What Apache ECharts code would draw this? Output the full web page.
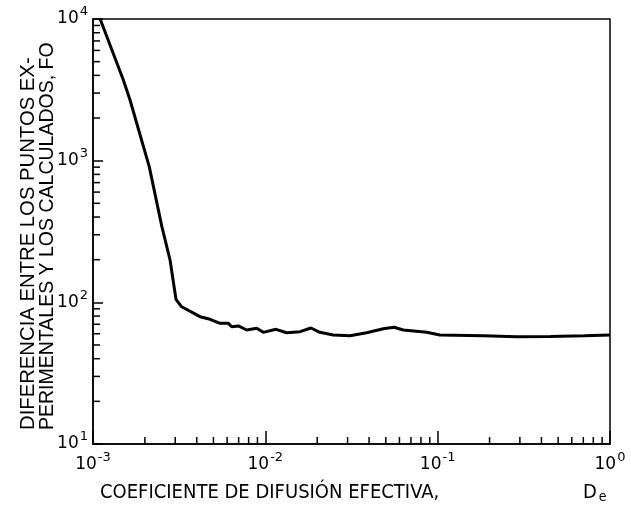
<!DOCTYPE html>
<html>
<head>
<meta charset="utf-8">
<script src="https://cdn.jsdelivr.net/npm/echarts@6/dist/echarts.min.js"></script>
<style>
html,body{margin:0;padding:0;background:#fff;}
#c{width:631px;height:513px;}
</style>
</head>
<body>
<div id="c"></div>
<script>
// Coefficient of effective diffusion (x) and deviation FO (y)
const deX = [0.00110, 0.00150, 0.00164, 0.00212, 0.00251, 0.00280, 0.00303, 0.00327, 0.00418, 0.00478,
             0.00546, 0.00610, 0.00638, 0.00697, 0.00780, 0.00891, 0.00973, 0.01153, 0.0133, 0.0159,
             0.0184, 0.0207, 0.0248, 0.0310, 0.0387, 0.0484, 0.0558, 0.0632, 0.0863, 0.103,
             0.184, 0.288, 0.449, 0.710, 1.0];
const foY = [10000, 3710, 2680, 907, 342, 199, 105, 93, 79.2, 75.9,
             71.1, 71.1, 67.3, 68.1, 63.8, 65.6, 61.4, 64.5, 61.0, 62.1,
             65.9, 61.4, 58.8, 58.1, 61.0, 65.1, 66.7, 63.8, 61.4, 58.8,
             58.1, 57.2, 57.5, 58.1, 58.8];

// axis decoration
const xDecades = [0.001, 0.01, 0.1];
const yDecades = [10, 100, 1000];
const minorMultipliers = [2, 3, 4, 5, 6, 7, 8, 9];
const xMin = 0.001, xMax = 1, yMin = 10, yMax = 10000;

const yTitleLines = ['DIFERENCIA ENTRE LOS PUNTOS EX-', 'PERIMENTALES Y LOS CALCULADOS, FO'];
const xTitle = 'COEFICIENTE DE DIFUSIÓN EFECTIVA,';

const xMinor = [], yMinor = [];
xDecades.forEach(d => minorMultipliers.forEach(m => xMinor.push([d * m, yMin])));
yDecades.forEach(d => minorMultipliers.forEach(m => yMinor.push([xMin, d * m])));

const curve = deX.map((x, i) => [x, foY[i]]);

const labelFont = 'DejaVu Sans';
function expLabel(v) {
  const e = Math.round(Math.log10(v));
  return '{b|10}{s|' + e + '}';
}
const richLbl = {
  b: {fontFamily: labelFont, fontSize: 17, color: '#000'},
  s: {fontFamily: labelFont, fontSize: 13, color: '#000', padding: [0, 0, 14, 1]}
};

const chart = echarts.init(document.getElementById('c'), null, {renderer: 'canvas'});
chart.setOption({
  backgroundColor: '#fff',
  animation: false,
  grid: {left: 93, right: 21, top: 19, bottom: 69, show: true, borderColor: '#000', borderWidth: 1.5, backgroundColor: 'transparent'},
  xAxis: {
    type: 'log', logBase: 10, min: xMin, max: xMax,
    axisLine: {show: true, lineStyle: {color: '#000', width: 1.5}},
    axisTick: {show: true, inside: true, length: 13, lineStyle: {color: '#000', width: 1.5}},
    splitLine: {show: false},
    axisLabel: {margin: 7, fontSize: 17, fontFamily: labelFont, color: '#000', formatter: expLabel, rich: richLbl}
  },
  yAxis: {
    type: 'log', logBase: 10, min: yMin, max: yMax,
    axisLine: {show: true, lineStyle: {color: '#000', width: 1.5}},
    axisTick: {show: true, inside: true, length: 10, lineStyle: {color: '#000', width: 1.5}},
    splitLine: {show: false},
    axisLabel: {margin: 5, fontSize: 17, fontFamily: labelFont, color: '#000', formatter: expLabel, rich: richLbl}
  },
  graphic: [
    {type: 'text', x: 19, y: 430, rotation: Math.PI / 2,
     style: {text: '{a|' + yTitleLines[0] + '}\n{c|' + yTitleLines[1] + '}', fill: '#000', textAlign: 'left', textVerticalAlign: 'top',
       rich: {a: {fontFamily: 'Liberation Sans', fontSize: 20.3, lineHeight: 19, color: '#000'},
              c: {fontFamily: 'Liberation Sans', fontSize: 19.5, lineHeight: 19, color: '#000'}}}},
    {type: 'text', x: 100, y: 493,
     style: {text: xTitle, fill: '#000', font: '20px "DejaVu Sans Condensed"', textAlign: 'left', textVerticalAlign: 'middle'}},
    {type: 'text', x: 583, y: 493,
     style: {text: '{d|D}{e|e}', fill: '#000', textAlign: 'left', textVerticalAlign: 'middle',
       rich: {d: {fontFamily: 'DejaVu Sans Condensed', fontSize: 20, color: '#000'},
              e: {fontFamily: 'DejaVu Sans Condensed', fontSize: 14, color: '#000', padding: [8, 0, 0, 2]}}}}
  ],
  series: [
    {type: 'line', data: curve, showSymbol: false, symbol: 'none', smooth: false,
     lineStyle: {color: '#000', width: 3}, clip: true, z: 5},
    {type: 'custom', data: xMinor, silent: true, clip: false,
     renderItem: function (params, api) {
       const p = api.coord([api.value(0), api.value(1)]);
       return {type: 'line', shape: {x1: p[0], y1: p[1], x2: p[0], y2: p[1] - 7}, style: {stroke: '#000', lineWidth: 1.5}};
     }},
    {type: 'custom', data: yMinor, silent: true, clip: false,
     renderItem: function (params, api) {
       const p = api.coord([api.value(0), api.value(1)]);
       return {type: 'line', shape: {x1: p[0], y1: p[1], x2: p[0] + 7, y2: p[1]}, style: {stroke: '#000', lineWidth: 1.5}};
     }}
  ]
});
</script>
</body>
</html>
